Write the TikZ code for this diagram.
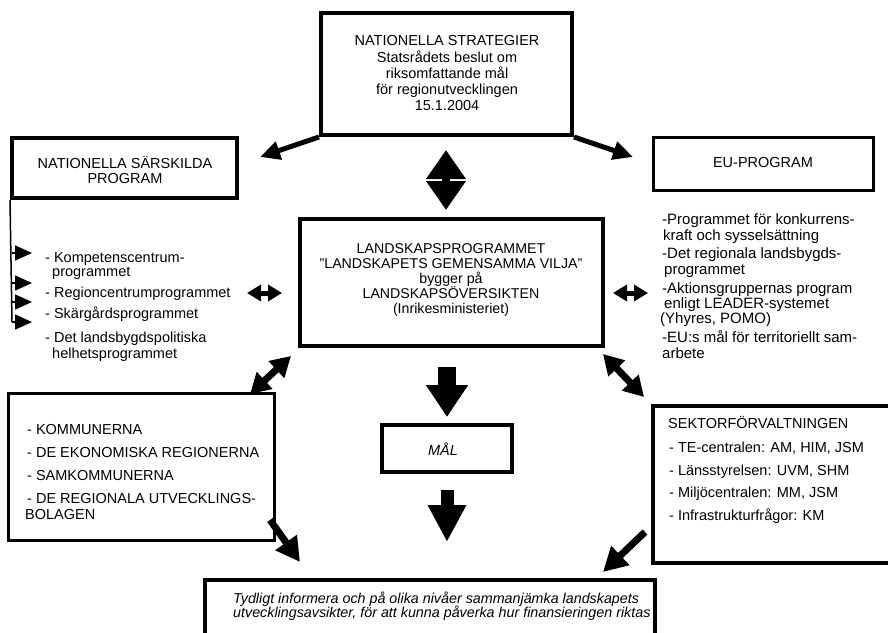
\documentclass[tikz,border=0pt]{standalone}
\usepackage{fontspec}
\setmainfont{Liberation Sans}
\usetikzlibrary{arrows.meta}
\begin{document}
\begin{tikzpicture}[x=1pt,y=-1pt,
  box/.style={draw, line width=4pt, inner sep=0pt},
  tbox/.style={draw, line width=3pt, inner sep=0pt},
  ln/.style={font=\fontsize{14.5}{16}\selectfont, inner sep=0pt, anchor=base west},
  rln/.style={font=\fontsize{15}{16}\selectfont, inner sep=0pt, anchor=base west},
  cln/.style={font=\fontsize{14.5}{16}\selectfont, inner sep=0pt, anchor=base},
  mln/.style={font=\fontsize{14.2}{16}\selectfont, inner sep=0pt, anchor=base},
  itl/.style={font=\fontsize{14.3}{13}\selectfont\itshape, inner sep=0pt, anchor=base west},
  tiparr/.style={line width=5pt, -{Triangle[length=20pt,width=18pt]}},
  smalldbl/.style={line width=5pt, {Triangle[length=14pt,width=16pt]}-{Triangle[length=14pt,width=16pt]}},
  diagdbl/.style={line width=7pt, {Triangle[length=20pt,width=22pt]}-{Triangle[length=20pt,width=22pt]}},
  bracketarr/.style={line width=1.5pt, -{Triangle[length=17pt,width=15pt]}},
  toparr/.style={line width=7pt, -{Triangle[length=24pt,width=25pt]}}
]
\useasboundingbox (0,0) rectangle (888,632);

% boxes
\node[box, minimum width=251pt, minimum height=122pt] (strat) at (446.5,74) {};
\node[box, minimum width=225pt, minimum height=60pt] (nsp) at (124.5,168) {};
\node[tbox, minimum width=220pt, minimum height=53pt] (eu) at (763,163.5) {};
\node[box, minimum width=303pt, minimum height=127pt] (lp) at (451.5,282.5) {};
\node[box, minimum width=130pt, minimum height=47pt] (mal) at (447,448.5) {};
\node[tbox, minimum width=266pt, minimum height=147pt] (kom) at (141,466.5) {};
\node[box, minimum width=239pt, minimum height=157pt] (sek) at (772.5,484.5) {};
\node[box, minimum width=450pt, minimum height=62pt] (goal) at (430,611) {};

% top box text
\node[cln] (s1) at (447,45) {NATIONELLA STRATEGIER};
\node[cln] (s2) at (447,62) {Statsrådets beslut om};
\node[cln] (s3) at (447,78) {riksomfattande mål};
\node[cln] (s4) at (447,94) {för regionutvecklingen};
\node[cln] (s5) at (447,110) {15.1.2004};

% left box text
\node[cln] (n1) at (125,168) {NATIONELLA SÄRSKILDA};
\node[cln] (n2) at (125,183) {PROGRAM};

% EU
\node[cln] (e1) at (763,167) {EU-PROGRAM};

% center box text
\node[mln] (c1) at (451,253) {LANDSKAPSPROGRAMMET};
\node[mln] (c2) at (451,268) {"LANDSKAPETS GEMENSAMMA VILJA"};
\node[mln] (c3) at (451,283) {bygger på};
\node[mln] (c4) at (451,298) {LANDSKAPSÖVERSIKTEN};
\node[mln] (c5) at (451,313) {(Inrikesministeriet)};

% MAL
\node[cln, font=\fontsize{14.5}{16}\selectfont\itshape] (m1) at (443,455) {MÅL};

% left list
\node[ln] (l1) at (45,262) {- Kompetenscentrum-};
\node[ln] (l1b) at (52,276) {programmet};
\node[ln] (l2) at (45,297) {- Regioncentrumprogrammet};
\node[ln] (l3) at (45,318) {- Skärgårdsprogrammet};
\node[ln] (l4) at (45,342) {- Det landsbygdspolitiska};
\node[ln] (l4b) at (52,358) {helhetsprogrammet};

% right list
\node[rln] (r1) at (662,224) {-Programmet för konkurrens-};
\node[rln] (r1b) at (663,240) {kraft och sysselsättning};
\node[rln] (r2) at (662,258) {-Det regionala landsbygds-};
\node[rln] (r2b) at (664,274) {programmet};
\node[rln] (r3) at (662,293) {-Aktionsgruppernas program};
\node[rln] (r3b) at (664,308) {enligt LEADER-systemet};
\node[rln] (r3c) at (660,323) {(Yhyres, POMO)};
\node[rln] (r4) at (662,342) {-EU:s mål för territoriellt sam-};
\node[rln] (r4b) at (662,358) {arbete};

% bottom-left box text
\node[ln] (k1) at (27,434) {- KOMMUNERNA};
\node[ln] (k2) at (27,457) {- DE EKONOMISKA REGIONERNA};
\node[ln] (k3) at (27,480) {- SAMKOMMUNERNA};
\node[ln] (k4) at (27,503) {- DE REGIONALA UTVECKLINGS-};
\node[ln] (k4b) at (25,519) {BOLAGEN};

% bottom-right box text
\node[ln] (t0) at (668,428) {SEKTORFÖRVALTNINGEN};
\node[ln] (t1) at (669,452) {- TE-centralen: AM, HIM, JSM};
\node[ln] (t2) at (669,475) {- Länsstyrelsen: UVM, SHM};
\node[ln] (t3) at (669,497) {- Miljöcentralen: MM, JSM};
\node[ln] (t4) at (669,520) {- Infrastrukturfrågor: KM};

% bottom text
\node[itl] (g1) at (233,603) {Tydligt informera och på olika nivåer sammanjämka landskapets};
\node[itl] (g2) at (233,617) {utvecklingsavsikter, för att kunna påverka hur finansieringen riktas};

% coordinates for free arrow ends
\coordinate (tlend) at (260,157);
\coordinate (trend) at (633,157);
\coordinate (dtop) at (446,150);
\coordinate (dbot) at (446,210);
\coordinate (lda) at (247,293);
\coordinate (ldb) at (282,293);
\coordinate (rda) at (613,293);
\coordinate (rdb) at (648,293);
\coordinate (bla) at (291,356);
\coordinate (blb) at (250,394);
\coordinate (bra) at (603,354);
\coordinate (brb) at (644,397);
\coordinate (cda) at (447,367);
\coordinate (cdb) at (447,417);
\coordinate (mda) at (447,490);
\coordinate (mdb) at (447,542);
\coordinate (kga) at (270,520);
\coordinate (kgb) at (300,562);
\coordinate (sga) at (645,532);
\coordinate (sgb) at (603,572);
\coordinate (brk) at (12,322);

% arrows
\draw[tiparr] (strat.south west) -- (tlend);
\draw[tiparr] (strat.south east) -- (trend);
\draw[line width=8pt, {Triangle[length=29pt,width=38pt]}-{Triangle[length=29pt,width=38pt]}] (dtop) -- (dbot);
\draw[smalldbl] (lda) -- (ldb);
\draw[smalldbl] (rda) -- (rdb);
\draw[diagdbl] (bla) -- (blb);
\draw[diagdbl] (bra) -- (brb);
\draw[line width=18pt, -{Triangle[length=32pt,width=40pt]}] (cda) -- (cdb);
\draw[line width=13pt, -{Triangle[length=37pt,width=36pt]}] (mda) -- (mdb);
\draw[toparr] (kga) -- (kgb);
\draw[toparr] (sga) -- (sgb);

% bracket on left
\draw[line width=1.5pt] (nsp.south west) -- (brk);
\draw[bracketarr] (12,253) -- (32,253);
\draw[bracketarr] (12,283) -- (32,283);
\draw[bracketarr] (12,302) -- (32,302);
\draw[bracketarr] (brk) -- (32,322);
\end{tikzpicture}
\end{document}
